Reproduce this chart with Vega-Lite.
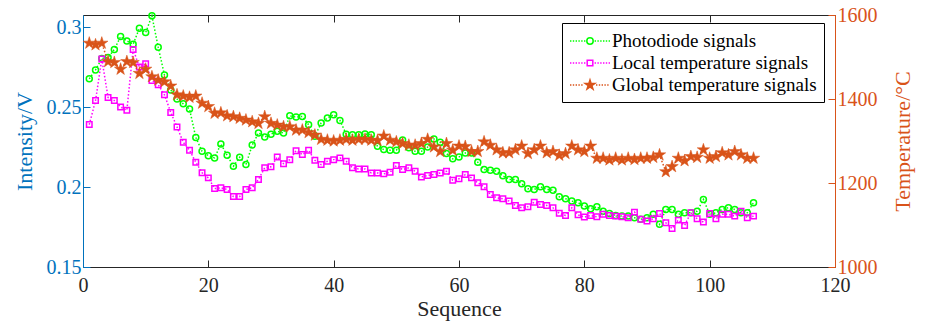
{
 "$schema": "https://vega.github.io/schema/vega-lite/v6.json",
 "width": 752, "height": 252,
 "autosize": {"type": "none"},
 "padding": {"left": 83, "top": 15, "right": 92, "bottom": 68},
 "background": "white",
 "config": {
  "view": {"stroke": null},
  "font": "Liberation Serif",
  "axis": {"grid": false, "labelFont": "Liberation Serif", "titleFont": "Liberation Serif", "labelFontSize": 20, "titleFontSize": 22, "titleFontWeight": "normal", "tickSize": -7, "tickWidth": 1, "domainWidth": 1, "labelPadding": 9, "labelFlush": false, "labelOverlap": false},
  "legend": {"labelFont": "Liberation Serif", "labelFontSize": 19, "labelColor": "black", "labelLimit": 0}
 },
 "datasets": {"sig": [
  {"seq":1,"photodiode":0.2676,"local":0.239,"global":1533},
  {"seq":2,"photodiode":0.2732,"local":0.254,"global":1529},
  {"seq":3,"photodiode":0.2803,"local":0.280,"global":1533},
  {"seq":4,"photodiode":0.2810,"local":0.256,"global":1489},
  {"seq":5,"photodiode":0.2860,"local":0.254,"global":1487},
  {"seq":6,"photodiode":0.2940,"local":0.250,"global":1471},
  {"seq":7,"photodiode":0.2913,"local":0.248,"global":1489},
  {"seq":8,"photodiode":0.2892,"local":0.286,"global":1487},
  {"seq":9,"photodiode":0.2992,"local":0.275,"global":1461},
  {"seq":10,"photodiode":0.2965,"local":0.277,"global":1471},
  {"seq":11,"photodiode":0.3070,"local":0.2666,"global":1453},
  {"seq":12,"photodiode":0.2874,"local":0.2639,"global":1445},
  {"seq":13,"photodiode":0.2700,"local":0.2576,"global":1441},
  {"seq":14,"photodiode":0.2607,"local":0.2466,"global":1431},
  {"seq":15,"photodiode":0.2550,"local":0.2375,"global":1410},
  {"seq":16,"photodiode":0.2520,"local":0.2280,"global":1407},
  {"seq":17,"photodiode":0.2487,"local":0.2230,"global":1404},
  {"seq":18,"photodiode":0.2310,"local":0.2155,"global":1407},
  {"seq":19,"photodiode":0.2223,"local":0.2089,"global":1390},
  {"seq":20,"photodiode":0.2196,"local":0.2057,"global":1382},
  {"seq":21,"photodiode":0.2182,"local":0.1990,"global":1366},
  {"seq":22,"photodiode":0.2269,"local":0.1995,"global":1367},
  {"seq":23,"photodiode":0.2198,"local":0.1985,"global":1360},
  {"seq":24,"photodiode":0.2130,"local":0.1940,"global":1358},
  {"seq":25,"photodiode":0.2186,"local":0.1940,"global":1354},
  {"seq":26,"photodiode":0.2140,"local":0.1985,"global":1350},
  {"seq":27,"photodiode":0.2262,"local":0.1995,"global":1346},
  {"seq":28,"photodiode":0.2338,"local":0.2047,"global":1342},
  {"seq":29,"photodiode":0.2313,"local":0.2120,"global":1358},
  {"seq":30,"photodiode":0.2330,"local":0.2126,"global":1342},
  {"seq":31,"photodiode":0.2348,"local":0.2188,"global":1338},
  {"seq":32,"photodiode":0.2338,"local":0.2146,"global":1334},
  {"seq":33,"photodiode":0.2445,"local":0.2171,"global":1334},
  {"seq":34,"photodiode":0.2437,"local":0.2227,"global":1326},
  {"seq":35,"photodiode":0.2441,"local":0.2203,"global":1326},
  {"seq":36,"photodiode":0.2389,"local":0.2229,"global":1320},
  {"seq":37,"photodiode":0.2317,"local":0.2167,"global":1314},
  {"seq":38,"photodiode":0.2400,"local":0.2140,"global":1304},
  {"seq":39,"photodiode":0.2431,"local":0.2161,"global":1302},
  {"seq":40,"photodiode":0.2452,"local":0.2171,"global":1300},
  {"seq":41,"photodiode":0.2416,"local":0.2182,"global":1302},
  {"seq":42,"photodiode":0.2330,"local":0.2161,"global":1304},
  {"seq":43,"photodiode":0.2327,"local":0.2120,"global":1302},
  {"seq":44,"photodiode":0.2327,"local":0.2113,"global":1304},
  {"seq":45,"photodiode":0.2331,"local":0.2113,"global":1304},
  {"seq":46,"photodiode":0.2327,"local":0.2088,"global":1302},
  {"seq":47,"photodiode":0.2254,"local":0.2088,"global":1301},
  {"seq":48,"photodiode":0.2234,"local":0.2082,"global":1312},
  {"seq":49,"photodiode":0.2230,"local":0.2092,"global":1302},
  {"seq":50,"photodiode":0.2230,"local":0.2134,"global":1298},
  {"seq":51,"photodiode":0.2293,"local":0.2109,"global":1294},
  {"seq":52,"photodiode":0.2245,"local":0.2120,"global":1290},
  {"seq":53,"photodiode":0.2223,"local":0.2099,"global":1290},
  {"seq":54,"photodiode":0.2223,"local":0.2063,"global":1294},
  {"seq":55,"photodiode":0.2250,"local":0.2072,"global":1304},
  {"seq":56,"photodiode":0.2300,"local":0.2078,"global":1286},
  {"seq":57,"photodiode":0.2279,"local":0.2088,"global":1275},
  {"seq":58,"photodiode":0.2209,"local":0.2098,"global":1294},
  {"seq":59,"photodiode":0.2176,"local":0.2042,"global":1278},
  {"seq":60,"photodiode":0.2188,"local":0.2051,"global":1288},
  {"seq":61,"photodiode":0.2213,"local":0.2078,"global":1287},
  {"seq":62,"photodiode":0.2213,"local":0.2057,"global":1275},
  {"seq":63,"photodiode":0.2155,"local":0.2026,"global":1275},
  {"seq":64,"photodiode":0.2109,"local":0.2001,"global":1298},
  {"seq":65,"photodiode":0.2105,"local":0.1953,"global":1290},
  {"seq":66,"photodiode":0.2099,"local":0.1933,"global":1279},
  {"seq":67,"photodiode":0.2070,"local":0.1926,"global":1272},
  {"seq":68,"photodiode":0.2047,"local":0.1912,"global":1272},
  {"seq":69,"photodiode":0.2047,"local":0.1885,"global":1279},
  {"seq":70,"photodiode":0.2020,"local":0.1870,"global":1288},
  {"seq":71,"photodiode":0.1989,"local":0.1877,"global":1270},
  {"seq":72,"photodiode":0.1985,"local":0.1905,"global":1279},
  {"seq":73,"photodiode":0.2001,"local":0.1891,"global":1288},
  {"seq":74,"photodiode":0.1985,"local":0.1885,"global":1272},
  {"seq":75,"photodiode":0.1980,"local":0.1870,"global":1275},
  {"seq":76,"photodiode":0.1939,"local":0.1836,"global":1266},
  {"seq":77,"photodiode":0.1927,"local":0.1822,"global":1270},
  {"seq":78,"photodiode":0.1912,"local":0.1870,"global":1288},
  {"seq":79,"photodiode":0.1902,"local":0.1826,"global":1279},
  {"seq":80,"photodiode":0.1881,"local":0.1812,"global":1275},
  {"seq":81,"photodiode":0.1864,"local":0.1822,"global":1288},
  {"seq":82,"photodiode":0.1877,"local":0.1814,"global":1259},
  {"seq":83,"photodiode":0.1849,"local":0.1829,"global":1259},
  {"seq":84,"photodiode":0.1835,"local":0.1822,"global":1255},
  {"seq":85,"photodiode":0.1822,"local":0.1818,"global":1259},
  {"seq":86,"photodiode":0.1818,"local":0.1814,"global":1255},
  {"seq":87,"photodiode":0.1818,"local":0.1808,"global":1259},
  {"seq":88,"photodiode":0.1808,"local":0.1843,"global":1256},
  {"seq":89,"photodiode":0.1798,"local":0.1798,"global":1259},
  {"seq":90,"photodiode":0.1808,"local":0.1787,"global":1259},
  {"seq":91,"photodiode":0.1829,"local":0.1802,"global":1261},
  {"seq":92,"photodiode":0.1767,"local":0.1835,"global":1267},
  {"seq":93,"photodiode":0.1860,"local":0.1777,"global":1227},
  {"seq":94,"photodiode":0.1860,"local":0.1740,"global":1239},
  {"seq":95,"photodiode":0.1829,"local":0.1793,"global":1259},
  {"seq":96,"photodiode":0.1839,"local":0.1760,"global":1253},
  {"seq":97,"photodiode":0.1839,"local":0.1839,"global":1263},
  {"seq":98,"photodiode":0.1849,"local":0.1802,"global":1261},
  {"seq":99,"photodiode":0.1922,"local":0.1781,"global":1279},
  {"seq":100,"photodiode":0.1829,"local":0.1835,"global":1259},
  {"seq":101,"photodiode":0.1839,"local":0.1802,"global":1263},
  {"seq":102,"photodiode":0.1860,"local":0.1829,"global":1272},
  {"seq":103,"photodiode":0.1871,"local":0.1829,"global":1267},
  {"seq":104,"photodiode":0.1860,"local":0.1818,"global":1275},
  {"seq":105,"photodiode":0.1839,"local":0.1849,"global":1267},
  {"seq":106,"photodiode":0.1839,"local":0.1808,"global":1259},
  {"seq":107,"photodiode":0.1902,"local":0.1818,"global":1259}
 ]},
 "data": {"name": "sig"},
 "layer": [
  {
   "encoding": {
    "x": {"field": "seq", "type": "quantitative", "scale": {"domain": [0, 120], "nice": false},
     "axis": {"values": [0, 20, 40, 60, 80, 100, 120], "title": "Sequence", "labelPadding": 15, "domainColor": "#262626", "tickColor": "#262626", "labelColor": "#262626", "titleColor": "#262626", "titlePadding": 3}}
   },
   "layer": [
    {"mark": {"type": "line", "color": "#00ff00", "strokeDash": [1.5, 2], "strokeWidth": 1.5},
     "encoding": {"y": {"field": "photodiode", "type": "quantitative", "scale": {"domain": [0.15, 0.3075], "nice": false, "zero": false},
      "axis": {"orient": "left", "title": "Intensity/V", "values": [0.15, 0.2, 0.25, 0.3], "format": ".2~f", "domainColor": "#0072bd", "tickColor": "#0072bd", "labelColor": "#0072bd", "titleColor": "#0072bd", "titlePadding": 10}}}},
    {"mark": {"type": "point", "shape": "circle", "filled": false, "color": "#00ff00", "size": 36, "strokeWidth": 1.5, "opacity": 1},
     "encoding": {"y": {"field": "photodiode", "type": "quantitative", "title": "Intensity/V"}}},
    {"mark": {"type": "line", "color": "#ff00ff", "strokeDash": [1.5, 2], "strokeWidth": 1.5},
     "encoding": {"y": {"field": "local", "type": "quantitative", "title": "Intensity/V"}}},
    {"mark": {"type": "point", "shape": "square", "filled": false, "color": "#ff00ff", "size": 30, "strokeWidth": 1.5, "opacity": 1},
     "encoding": {"y": {"field": "local", "type": "quantitative", "title": "Intensity/V"}}},
    {"data": {"values": [{"series": "Photodiode signals"}, {"series": "Local temperature signals"}, {"series": "Global temperature signals"}]},
     "mark": {"type": "point", "clip": true, "opacity": 1, "strokeWidth": 1.5, "size": 400},
     "encoding": {
      "x": {"datum": 50},
      "y": {"datum": 0, "type": "quantitative"},
      "shape": {"field": "series", "type": "nominal",
       "scale": {"domain": ["Photodiode signals", "Local temperature signals", "Global temperature signals"],
        "range": [
         "M-2,0h0.14M-1.72,0h0.14M-1.44,0h0.14M-1.16,0h0.14M-0.88,0h0.14M-0.6,0h0.14M0.46,0h0.14M0.74,0h0.14M1.02,0h0.14M1.3,0h0.14M1.58,0h0.14M1.86,0h0.14M0.32,0A0.32,0.32,0,1,1,-0.32,0A0.32,0.32,0,1,1,0.32,0Z",
         "M-2,0h0.14M-1.72,0h0.14M-1.44,0h0.14M-1.16,0h0.14M-0.88,0h0.14M-0.6,0h0.14M0.46,0h0.14M0.74,0h0.14M1.02,0h0.14M1.3,0h0.14M1.58,0h0.14M1.86,0h0.14M-0.28,-0.28h0.56v0.56h-0.56Z",
         "M-2,0h0.14M-1.72,0h0.14M-1.44,0h0.14M-1.16,0h0.14M-0.88,0h0.14M0.6,0h0.14M0.88,0h0.14M1.16,0h0.14M1.44,0h0.14M1.72,0h0.14M0,-0.5L0.1118,-0.1538L0.4756,-0.1546L0.1808,0.0588L0.294,0.4046L0,0.19L-0.294,0.4046L-0.1808,0.0588L-0.4756,-0.1546L-0.1118,-0.1538Z"
        ]},
       "legend": {"title": null, "orient": "none", "legendX": 479, "legendY": 8, "padding": 7, "strokeColor": "black", "fillColor": "white", "symbolSize": 400, "symbolStrokeWidth": 1.5, "symbolOffset": 10, "labelOffset": 11, "rowPadding": 1, "labelFontSize": 19, "labelColor": "black", "labelLimit": 0}},
      "stroke": {"field": "series", "type": "nominal",
       "scale": {"domain": ["Photodiode signals", "Local temperature signals", "Global temperature signals"], "range": ["#00ff00", "#ff00ff", "#d95319"]},
       "legend": {"title": null, "orient": "none", "legendX": 479, "legendY": 8, "padding": 7, "strokeColor": "black", "fillColor": "white", "symbolSize": 400, "symbolStrokeWidth": 1.5, "symbolOffset": 10, "labelOffset": 11, "rowPadding": 1, "labelFontSize": 19, "labelColor": "black", "labelLimit": 0}},
      "fill": {"field": "series", "type": "nominal",
       "scale": {"domain": ["Photodiode signals", "Local temperature signals", "Global temperature signals"], "range": ["transparent", "transparent", "#d95319"]},
       "legend": {"title": null, "orient": "none", "legendX": 479, "legendY": 8, "padding": 7, "strokeColor": "black", "fillColor": "white", "symbolSize": 400, "symbolStrokeWidth": 1.5, "symbolOffset": 10, "labelOffset": 11, "rowPadding": 1, "labelFontSize": 19, "labelColor": "black", "labelLimit": 0}}
     }}
   ]
  },
  {
   "encoding": {
    "x": {"field": "seq", "type": "quantitative", "scale": {"domain": [0, 120], "nice": false},
     "axis": {"orient": "top", "values": [0, 20, 40, 60, 80, 100, 120], "labels": false, "title": null, "domainColor": "#262626", "tickColor": "#262626"}}
   },
   "layer": [
    {"mark": {"type": "line", "color": "#d95319", "strokeDash": [1.5, 2], "strokeWidth": 1.5},
     "encoding": {"y": {"field": "global", "type": "quantitative", "scale": {"domain": [1000, 1600], "nice": false, "zero": false},
      "axis": {"orient": "right", "title": "Temperature/°C", "titleAngle": 270, "titleBaseline": "top", "format": "d", "values": [1000, 1200, 1400, 1600], "domainColor": "#d95319", "tickColor": "#d95319", "labelColor": "#d95319", "titleColor": "#d95319", "titlePadding": 15}}}},
    {"mark": {"type": "point", "shape": "M0,-1L0.2234,-0.3074L0.9511,-0.309L0.3614,0.1174L0.5878,0.809L0,0.38L-0.5878,0.809L-0.3614,0.1174L-0.9511,-0.309L-0.2234,-0.3074Z", "filled": true, "color": "#d95319", "size": 170, "opacity": 1, "strokeWidth": 0.5, "stroke": "#d95319"},
     "encoding": {"y": {"field": "global", "type": "quantitative", "title": "Temperature/°C"}}}
   ]
  }
 ],
 "resolve": {"scale": {"y": "independent"}, "axis": {"x": "independent", "y": "independent"}}
}
